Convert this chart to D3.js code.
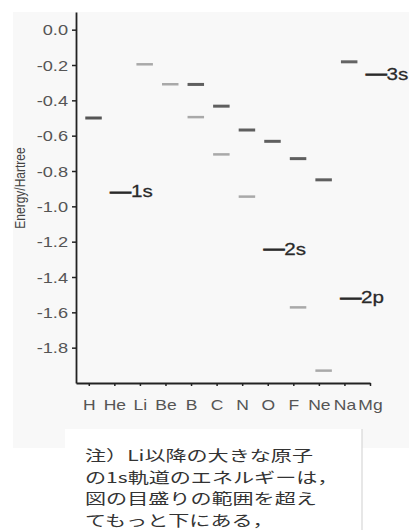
<!DOCTYPE html>
<html>
<head>
<meta charset="utf-8">
<script src="https://cdn.jsdelivr.net/npm/d3@7/dist/d3.min.js"></script>
<style>
  html, body { margin: 0; padding: 0; background: #ffffff; }
  #wrap { position: relative; width: 409px; height: 530px; overflow: hidden; }
  svg { display: block; position: absolute; left: 0; top: 0; }
  #note {
    position: absolute; left: 85px; top: 444.4px;
    font-family: 'Noto Sans CJK JP', sans-serif; font-size: 14.7px; line-height: 21.4px;
    color: #333; white-space: nowrap;
    transform: scaleX(1.435); transform-origin: 0 0;
  }
  #note div { height: 21.4px; }
</style>
</head>
<body>
<div id="wrap"><div id="chart"></div><div id="note"></div></div>
<script>
// ---- data ----
const elements = ["H", "He", "Li", "Be", "B", "C", "N", "O", "F", "Ne", "Na", "Mg"];
// orbital energies (Hartree); null = not occupied
const e1s = [-0.500, -0.918, null, null, null, null, null, null, null, null, null, null];
const e2s = [null, null, -0.196, -0.309, -0.495, -0.706, -0.945, -1.244, -1.572, -1.930, -2.797, -3.768];
const e2p = [null, null, null, null, -0.310, -0.433, -0.568, -0.632, -0.730, -0.850, -1.518, -2.282];
const e3s = [null, null, null, null, null, null, null, null, null, null, -0.182, -0.253];
const seriesNames = ["1s", "2s", "2p", "3s"];
const seriesValues = [e1s, e2s, e2p, e3s];
// which point of each series carries the text label
const labelElements = ["He", "O", "Na", "Mg"];
const yTicks = [0.0, -0.2, -0.4, -0.6, -0.8, -1.0, -1.2, -1.4, -1.6, -1.8];
const yTitle = "Energy/Hartree";
const noteLines = [
  "注）Li以降の大きな原子",
  "の1s軌道のエネルギーは，",
  "図の目盛りの範囲を超え",
  "てもっと下にある，"
];

// ---- layout ----
const W = 409, H = 530;
const SX = 1.25; // horizontal text stretch of the original
const seriesColor = { "1s": "#555555", "2s": "#a9a9a9", "2p": "#5f5f5f", "3s": "#646464" };
const seriesWidth = { "1s": 3, "2s": 2.5, "2p": 3, "3s": 3 };

const svg = d3.select("#chart").append("svg")
  .attr("width", W).attr("height", H);

svg.append("rect").attr("x", 0).attr("y", 0).attr("width", W).attr("height", H).attr("fill", "#ffffff");
svg.append("rect").attr("x", 13).attr("y", 12).attr("width", W - 13).attr("height", 436).attr("fill", "#f8f8f8");

const x = d3.scaleLinear().domain([-0.5, elements.length - 1]).range([76, 370]);
const y = d3.scaleLinear().domain([-2.0, 0.1]).range([383, 12]);

// y axis
const yAxis = svg.append("g").attr("transform", "translate(76,0)")
  .call(d3.axisLeft(y).tickValues(yTicks).tickSize(4).tickSizeOuter(0)
    .tickFormat(d => d3.format(".1f")(d).replace("−", "-")));
yAxis.select(".domain").attr("stroke", "#222").attr("stroke-width", 1.8);
yAxis.selectAll(".tick line").attr("stroke", "#222").attr("stroke-width", 1.5);
yAxis.selectAll(".tick text")
  .attr("x", 0).attr("dy", null)
  .attr("transform", "translate(-8,5) scale(1.3,1)")
  .attr("text-anchor", "end")
  .attr("fill", "#555")
  .style("font-family", "'Liberation Sans', Arial, sans-serif")
  .style("font-size", "14px");

// x axis
const xAxis = svg.append("g").attr("transform", "translate(0,383)")
  .call(d3.axisBottom(x).tickValues(d3.range(elements.length)).tickSize(3).tickSizeOuter(0)
    .tickFormat(i => elements[i]));
xAxis.select(".domain").attr("stroke", "#222").attr("stroke-width", 1.8);
xAxis.selectAll(".tick line").attr("stroke", "#222").attr("stroke-width", 1.5);
xAxis.selectAll(".tick text")
  .attr("y", 0).attr("dy", null)
  .attr("transform", "translate(0,26.5) scale(" + SX + ",1)")
  .attr("text-anchor", "middle")
  .attr("fill", "#555")
  .style("font-family", "'Liberation Sans', Arial, sans-serif")
  .style("font-size", "14px");

// y title
svg.append("text")
  .attr("transform", "translate(24.5,188) rotate(-90) scale(1," + SX + ")")
  .attr("text-anchor", "middle")
  .attr("fill", "#444")
  .style("font-family", "'Liberation Sans', Arial, sans-serif")
  .style("font-size", "12px")
  .text(yTitle);

// energy levels
const points = [];
seriesNames.forEach((s, k) => {
  seriesValues[k].forEach((v, i) => {
    if (v === null || v < y.domain()[0]) return;
    const labeled = labelElements[k] === elements[i];
    points.push({ s, i, v, labeled });
  });
});

svg.append("g").selectAll("line").data(points.filter(p => !p.labeled)).join("line")
  .attr("x1", p => x(p.i) - 3.5)
  .attr("x2", p => x(p.i) + 13)
  .attr("y1", p => y(p.v))
  .attr("y2", p => y(p.v))
  .attr("stroke", p => seriesColor[p.s])
  .attr("stroke-width", p => seriesWidth[p.s]);

const lab = svg.append("g").selectAll("text").data(points.filter(p => p.labeled)).join("text")
  .attr("transform", p => "translate(" + (x(p.i) - 4) + "," + (y(p.v) + 5.5) + ") scale(" + SX + ",1)")
  .attr("fill", "#2a2a2a")
  .style("font-family", "'Liberation Sans', Arial, sans-serif")
  .style("font-size", "16.5px");
lab.append("tspan")
  .attr("dy", -0.8)
  .attr("stroke", "#2a2a2a").attr("stroke-width", 1.1)
  .text("\u2014");
lab.append("tspan")
  .attr("dy", 0.8)
  .attr("stroke", "#2a2a2a").attr("stroke-width", 0.25)
  .text(p => p.s);

// note box
svg.append("rect").attr("x", 65).attr("y", 429).attr("width", 297).attr("height", H - 429).attr("fill", "#ffffff");
svg.append("line").attr("x1", 362).attr("x2", 362).attr("y1", 429).attr("y2", H)
  .attr("stroke", "#cfcfcf").attr("stroke-width", 1);
d3.select("#note").selectAll("div").data(noteLines).join("div").text(d => d);
</script>
</body>
</html>
